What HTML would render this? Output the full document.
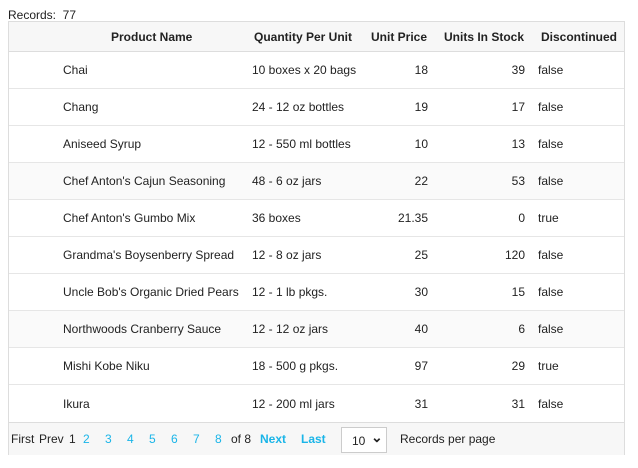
<!DOCTYPE html>
<html><head><meta charset="utf-8"><style>
body{margin:0;width:638px;height:468px;background:#fff;font-family:"Liberation Sans",Arial,sans-serif;font-size:12px;color:#222;position:relative;overflow:hidden}
.abs{position:absolute;white-space:nowrap}
#grid{position:absolute;left:8px;top:21px;width:617px;height:434px;border:1px solid #ddd;box-sizing:border-box}
.hdr{position:absolute;left:0;top:0;width:100%;height:30px;background:#f7f7f7;border-bottom:1px solid #ddd;box-sizing:border-box;font-weight:bold}
.row{position:absolute;left:0;width:100%;height:37px;border-bottom:1px solid #e6e6e6;box-sizing:border-box}
.row span,.hdr span{position:absolute;top:50%;transform:translateY(-50%);white-space:nowrap}
.foot{position:absolute;left:0;top:400px;width:100%;height:33px;background:#f7f7f7;border-top:1px solid #ddd;box-sizing:border-box}
.foot span{position:absolute;top:9px;white-space:nowrap}
.lnk{color:#1ab5e8}
.sel{position:absolute;left:332px;top:4px;width:46px;height:26px;background:#fff;border:1px solid #ccc;box-sizing:border-box}
</style></head><body>
<div class="abs" style="left:8px;top:8px">Records:&nbsp; 77</div>
<div id="grid">
<div class="hdr">
<span style="left:102px">Product Name</span>
<span style="left:245px">Quantity Per Unit</span>
<span style="left:362px">Unit Price</span>
<span style="left:435px">Units In Stock</span>
<span style="left:532px">Discontinued</span>
</div>
<div id="rows"></div>
<div class="foot">
<span style="left:2px">First</span>
<span style="left:30px">Prev</span>
<span style="left:60px">1</span>
<span class="lnk" style="left:74px">2</span>
<span class="lnk" style="left:96px">3</span>
<span class="lnk" style="left:118px">4</span>
<span class="lnk" style="left:140px">5</span>
<span class="lnk" style="left:162px">6</span>
<span class="lnk" style="left:184px">7</span>
<span class="lnk" style="left:206px">8</span>
<span style="left:222px">of 8</span>
<span class="lnk" style="left:251px;font-weight:bold">Next</span>
<span class="lnk" style="left:292px;font-weight:bold">Last</span>
<div class="sel"><span style="left:10px;top:6px">10</span><span style="left:29px;top:1px;font-size:14px;font-weight:bold">&#8964;</span></div>
<span style="left:391px">Records per page</span>
</div>
</div>
<script>
const names=["Chai","Chang","Aniseed Syrup","Chef Anton's Cajun Seasoning","Chef Anton's Gumbo Mix","Grandma's Boysenberry Spread","Uncle Bob's Organic Dried Pears","Northwoods Cranberry Sauce","Mishi Kobe Niku","Ikura"];
const qty=["10 boxes x 20 bags","24 - 12 oz bottles","12 - 550 ml bottles","48 - 6 oz jars","36 boxes","12 - 8 oz jars","12 - 1 lb pkgs.","12 - 12 oz jars","18 - 500 g pkgs.","12 - 200 ml jars"];
const prices=["18","19","10","22","21.35","25","30","40","97","31"];
const stock=[39,17,13,53,0,120,15,6,29,31];
const disc=["false","false","false","false","true","false","false","false","true","false"];
const rows=document.getElementById('rows');
names.forEach((n,i)=>{
 const r=document.createElement('div');
 r.className='row';
 
 
 r.style.top=(30+i*37)+'px';
 if(i===3||i===7)r.style.background='#fafafa';
 if(i===9)r.style.borderBottom='none';
 r.innerHTML='<span style="left:54px">'+n+'</span><span style="left:243px">'+qty[i]+'</span><span style="right:196px">'+prices[i]+'</span><span style="right:99px">'+stock[i]+'</span><span style="left:529px">'+disc[i]+'</span>';
 rows.appendChild(r);
});
</script>
</body></html>
